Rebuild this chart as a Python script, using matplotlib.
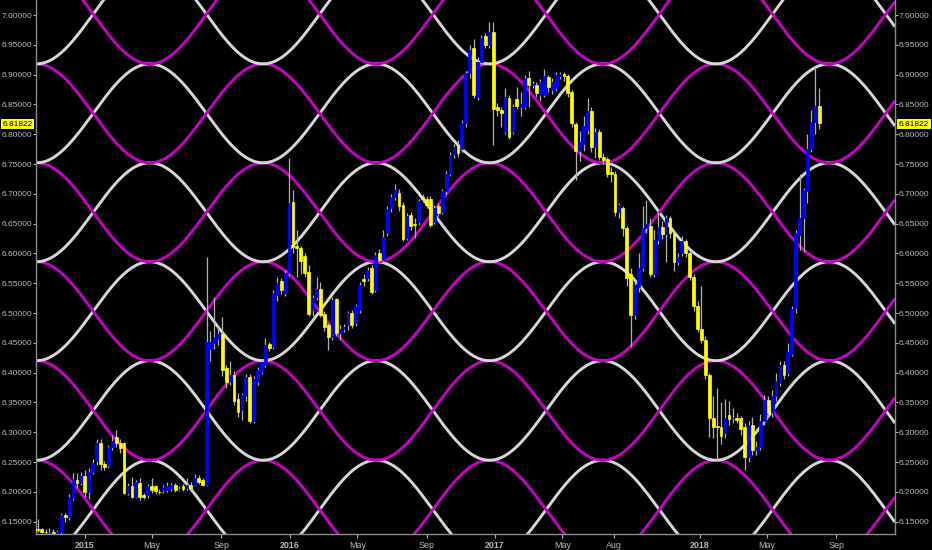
import numpy as np
import pandas as pd
import matplotlib
matplotlib.use("Agg")
import matplotlib.pyplot as plt
import matplotlib.dates as mdates
from matplotlib.ticker import FormatStrFormatter

# weekly USD/CNH bars
opens = [
    6.138, 6.137, 6.133, 6.132, 6.133, 6.131, 6.133, 6.161, 6.158, 6.190,
    6.220, 6.215, 6.226, 6.200, 6.234, 6.251, 6.282, 6.247, 6.244, 6.275,
    6.292, 6.282, 6.282, 6.198, 6.210, 6.192, 6.215, 6.194, 6.194, 6.209,
    6.209, 6.200, 6.201, 6.203, 6.206, 6.211, 6.203, 6.210, 6.206, 6.212,
    6.212, 6.224, 6.219, 6.212, 6.440, 6.449, 6.456, 6.465, 6.407, 6.385,
    6.396, 6.355, 6.337, 6.361, 6.393, 6.318, 6.385, 6.401, 6.413, 6.448,
    6.443, 6.530, 6.553, 6.533, 6.567, 6.687, 6.612, 6.609, 6.595, 6.569,
    6.505, 6.527, 6.541, 6.499, 6.480, 6.460, 6.523, 6.466, 6.474, 6.480,
    6.500, 6.483, 6.505, 6.557, 6.558, 6.575, 6.539, 6.601, 6.589, 6.634,
    6.676, 6.695, 6.702, 6.681, 6.626, 6.664, 6.650, 6.653, 6.695, 6.692,
    6.692, 6.653, 6.679, 6.670, 6.704, 6.734, 6.765, 6.782, 6.776, 6.818,
    6.902, 6.944, 6.863, 6.922, 6.964, 6.950, 6.972, 6.845, 6.840, 6.804,
    6.860, 6.804, 6.859, 6.846, 6.846, 6.894, 6.883, 6.883, 6.866, 6.866,
    6.896, 6.874, 6.877, 6.897, 6.901, 6.897, 6.871, 6.817, 6.771, 6.784,
    6.807, 6.839, 6.779, 6.804, 6.762, 6.758, 6.737, 6.733, 6.670, 6.676,
    6.642, 6.565, 6.497, 6.544, 6.576, 6.642, 6.646, 6.565, 6.622, 6.644,
    6.633, 6.659, 6.634, 6.586, 6.601, 6.620, 6.601, 6.561, 6.511, 6.474,
    6.455, 6.396, 6.323, 6.310, 6.309, 6.298, 6.329, 6.323, 6.323, 6.323,
    6.309, 6.258, 6.312, 6.270, 6.276, 6.318, 6.354, 6.332, 6.360, 6.382,
    6.413, 6.399, 6.432, 6.508, 6.631, 6.659, 6.704, 6.776, 6.821, 6.847,
]
highs = [
    6.154, 6.140, 6.137, 6.140, 6.138, 6.136, 6.164, 6.165, 6.196, 6.232,
    6.232, 6.233, 6.236, 6.240, 6.255, 6.289, 6.289, 6.252, 6.279, 6.295,
    6.303, 6.288, 6.284, 6.215, 6.225, 6.220, 6.224, 6.198, 6.213, 6.224,
    6.212, 6.204, 6.211, 6.216, 6.215, 6.214, 6.209, 6.213, 6.224, 6.216,
    6.230, 6.228, 6.223, 6.594, 6.470, 6.527, 6.480, 6.494, 6.412, 6.420,
    6.402, 6.365, 6.365, 6.398, 6.397, 6.395, 6.410, 6.422, 6.458, 6.452,
    6.538, 6.560, 6.558, 6.573, 6.760, 6.706, 6.640, 6.613, 6.600, 6.580,
    6.530, 6.560, 6.552, 6.503, 6.484, 6.527, 6.526, 6.480, 6.482, 6.504,
    6.505, 6.515, 6.552, 6.565, 6.578, 6.580, 6.602, 6.608, 6.640, 6.680,
    6.700, 6.716, 6.708, 6.686, 6.668, 6.670, 6.660, 6.692, 6.700, 6.697,
    6.696, 6.682, 6.684, 6.708, 6.738, 6.770, 6.784, 6.790, 6.824, 6.906,
    6.950, 6.960, 6.930, 6.967, 6.970, 6.989, 6.989, 6.852, 6.845, 6.877,
    6.866, 6.850, 6.880, 6.870, 6.900, 6.906, 6.890, 6.888, 6.892, 6.910,
    6.900, 6.895, 6.905, 6.905, 6.904, 6.901, 6.875, 6.820, 6.805, 6.830,
    6.860, 6.845, 6.810, 6.808, 6.768, 6.762, 6.745, 6.738, 6.685, 6.680,
    6.646, 6.575, 6.552, 6.600, 6.680, 6.690, 6.660, 6.640, 6.670, 6.655,
    6.665, 6.663, 6.640, 6.600, 6.630, 6.625, 6.606, 6.566, 6.520, 6.545,
    6.462, 6.400, 6.360, 6.375, 6.350, 6.355, 6.352, 6.340, 6.333, 6.328,
    6.315, 6.318, 6.325, 6.285, 6.330, 6.362, 6.360, 6.370, 6.400, 6.420,
    6.420, 6.450, 6.512, 6.640, 6.734, 6.710, 6.800, 6.840, 6.913, 6.877,
]
lows = [
    6.133, 6.131, 6.129, 6.129, 6.128, 6.128, 6.130, 6.150, 6.152, 6.186,
    6.207, 6.211, 6.192, 6.188, 6.230, 6.245, 6.237, 6.236, 6.240, 6.270,
    6.275, 6.265, 6.196, 6.195, 6.189, 6.189, 6.187, 6.188, 6.190, 6.198,
    6.197, 6.196, 6.198, 6.200, 6.202, 6.200, 6.201, 6.201, 6.203, 6.203,
    6.209, 6.213, 6.210, 6.210, 6.420, 6.440, 6.447, 6.395, 6.375, 6.380,
    6.345, 6.326, 6.320, 6.352, 6.315, 6.315, 6.380, 6.398, 6.410, 6.437,
    6.440, 6.520, 6.532, 6.528, 6.562, 6.600, 6.560, 6.565, 6.560, 6.495,
    6.495, 6.522, 6.494, 6.470, 6.438, 6.455, 6.462, 6.455, 6.468, 6.472,
    6.475, 6.478, 6.500, 6.545, 6.554, 6.532, 6.535, 6.585, 6.585, 6.630,
    6.670, 6.690, 6.672, 6.620, 6.622, 6.640, 6.626, 6.648, 6.686, 6.676,
    6.644, 6.650, 6.662, 6.666, 6.700, 6.730, 6.760, 6.762, 6.770, 6.812,
    6.895, 6.860, 6.858, 6.916, 6.945, 6.945, 6.782, 6.830, 6.812, 6.800,
    6.792, 6.800, 6.843, 6.830, 6.842, 6.845, 6.878, 6.862, 6.855, 6.862,
    6.870, 6.868, 6.872, 6.893, 6.890, 6.862, 6.812, 6.723, 6.755, 6.772,
    6.800, 6.770, 6.760, 6.757, 6.750, 6.728, 6.720, 6.662, 6.660, 6.630,
    6.545, 6.443, 6.490, 6.535, 6.570, 6.635, 6.560, 6.560, 6.615, 6.625,
    6.586, 6.626, 6.570, 6.580, 6.596, 6.594, 6.555, 6.504, 6.468, 6.450,
    6.390, 6.292, 6.290, 6.254, 6.280, 6.290, 6.312, 6.316, 6.315, 6.296,
    6.236, 6.250, 6.262, 6.262, 6.270, 6.312, 6.325, 6.325, 6.352, 6.378,
    6.390, 6.395, 6.428, 6.500, 6.605, 6.603, 6.685, 6.770, 6.800, 6.808,
]
closes = [
    6.136, 6.133, 6.132, 6.133, 6.131, 6.133, 6.161, 6.158, 6.192, 6.221,
    6.215, 6.226, 6.200, 6.234, 6.249, 6.282, 6.247, 6.242, 6.275, 6.285,
    6.282, 6.273, 6.198, 6.209, 6.192, 6.216, 6.192, 6.192, 6.210, 6.203,
    6.201, 6.199, 6.208, 6.210, 6.212, 6.203, 6.205, 6.204, 6.212, 6.206,
    6.224, 6.217, 6.212, 6.452, 6.452, 6.460, 6.465, 6.405, 6.385, 6.396,
    6.353, 6.334, 6.362, 6.393, 6.318, 6.390, 6.404, 6.417, 6.446, 6.441,
    6.533, 6.550, 6.539, 6.567, 6.684, 6.611, 6.609, 6.588, 6.567, 6.499,
    6.525, 6.541, 6.497, 6.477, 6.460, 6.522, 6.466, 6.474, 6.477, 6.500,
    6.480, 6.511, 6.547, 6.554, 6.572, 6.536, 6.597, 6.589, 6.628, 6.674,
    6.695, 6.706, 6.679, 6.624, 6.662, 6.646, 6.648, 6.688, 6.691, 6.681,
    6.648, 6.676, 6.667, 6.704, 6.734, 6.765, 6.779, 6.768, 6.818, 6.902,
    6.941, 6.866, 6.922, 6.961, 6.950, 6.972, 6.843, 6.840, 6.835, 6.863,
    6.796, 6.846, 6.847, 6.850, 6.894, 6.883, 6.885, 6.869, 6.888, 6.897,
    6.880, 6.888, 6.899, 6.901, 6.897, 6.869, 6.818, 6.771, 6.787, 6.814,
    6.839, 6.779, 6.804, 6.762, 6.757, 6.733, 6.734, 6.670, 6.681, 6.642,
    6.558, 6.497, 6.547, 6.576, 6.642, 6.650, 6.565, 6.622, 6.644, 6.632,
    6.659, 6.634, 6.586, 6.594, 6.620, 6.600, 6.561, 6.511, 6.474, 6.455,
    6.396, 6.323, 6.309, 6.308, 6.294, 6.323, 6.322, 6.323, 6.321, 6.306,
    6.258, 6.312, 6.270, 6.275, 6.318, 6.354, 6.332, 6.360, 6.386, 6.413,
    6.396, 6.435, 6.506, 6.634, 6.659, 6.706, 6.776, 6.821, 6.847, 6.818,
]
first_bar = "2014-10-09"
last_price = "6.81822"

# sine-line drawing: bands between these levels, magenta/white in antiphase
band_edges = [6.087, 6.253, 6.420, 6.586, 6.752, 6.918, 7.085]
wave_start = "2014-10-07"
wave_half_period = 201.8  # days

tick_dates = ["2015-01-01", "2015-05-01", "2015-09-01", "2016-01-01",
              "2016-05-01", "2016-09-01", "2017-01-01", "2017-05-01",
              "2017-08-01", "2018-01-01", "2018-05-01", "2018-09-01"]
tick_labels = ["2015", "May", "Sep", "2016", "May", "Sep", "2017", "May",
               "Aug", "2018", "May", "Sep"]
y_ticks = [6.15, 6.20, 6.25, 6.30, 6.35, 6.40, 6.45, 6.50, 6.55,
           6.60, 6.65, 6.70, 6.75, 6.80, 6.85, 6.90, 6.95, 7.00]

plt.rcParams["font.family"] = ["Liberation Sans", "DejaVu Sans"]
GRAY = "#b8b8b8"
MAGENTA = "#c800c8"
WHITE = "#d6d6d6"
FS = 6.0

fig = plt.figure(figsize=(9.32, 5.5), dpi=100, facecolor="black")
ax = fig.add_axes([36 / 932, 16 / 550, 859 / 932, 534 / 550], facecolor="black")

x_lo = mdates.date2num(pd.Timestamp("2014-10-06"))
x_hi = mdates.date2num(pd.Timestamp("2018-12-15"))

# --- sine lines
t = np.linspace(x_lo, x_hi, 3000)
phase = np.pi * (t - mdates.date2num(pd.Timestamp(wave_start))) / wave_half_period
for lo, hi in zip(band_edges[:-1], band_edges[1:]):
    mid, amp = (lo + hi) / 2, (hi - lo) / 2
    ax.plot(t, mid - amp * np.cos(phase), color=WHITE, lw=2.1, zorder=1,
            solid_capstyle="butt")
    ax.plot(t, mid + amp * np.cos(phase), color=MAGENTA, lw=2.1, zorder=1,
            solid_capstyle="butt")

# --- candles
dates = pd.date_range(first_bar, periods=len(closes), freq="7D")
xd = mdates.date2num(dates)
o = np.array(opens)
c = np.array(closes)
colors = ["#0000ff" if cc >= oo else "#ffff00" for oo, cc in zip(o, c)]
ax.vlines(xd, lows, highs, color="#b0b0b0", lw=0.9, zorder=2)
ax.bar(xd, c - o, bottom=o, width=5.0, color=colors, edgecolor=colors,
       lw=0.5, zorder=3)

ax.set_xlim(x_lo, x_hi)
ax.set_ylim(6.1292, 7.0252)

# --- axes styling
for side in ("left", "right", "bottom"):
    ax.spines[side].set_color("#8a8a8a")
    ax.spines[side].set_linewidth(1.0)
ax.spines["top"].set_visible(False)

ax.set_yticks(y_ticks)
ax.yaxis.set_major_formatter(FormatStrFormatter("%.5f"))
ax.tick_params(axis="y", left=True, right=True, labelleft=True, labelright=True,
               colors=GRAY, length=2, width=0.8, labelsize=FS, pad=0.8)

ax.set_xticks(mdates.date2num(pd.to_datetime(tick_dates)))
ax.set_xticklabels(tick_labels)
ax.tick_params(axis="x", colors=GRAY, length=3, width=0.8, labelsize=6.4, pad=2)
for lab in ax.get_xticklabels():
    if lab.get_text().isdigit():
        lab.set_fontweight("bold")

# --- last price tags
y_last = 1 - 124 / 550
box = dict(facecolor="#ffff00", edgecolor="none", boxstyle="square,pad=0.2")
fig.text(17.5 / 932, y_last, last_price, ha="center", va="center",
         fontsize=FS, color="black", bbox=box)
fig.text(914 / 932, y_last, last_price, ha="center", va="center",
         fontsize=FS, color="black", bbox=box)

fig.savefig("out.png", dpi=100, facecolor="black")
